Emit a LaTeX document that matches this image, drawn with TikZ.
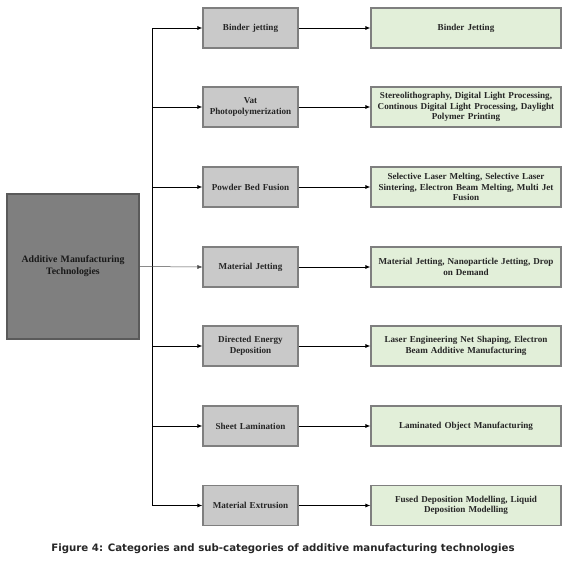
\documentclass[tikz,border=0pt]{standalone}
\usepackage{fontspec}
\setmainfont{Liberation Serif}
\newfontfamily\capfont{DejaVu Sans}
\usetikzlibrary{arrows.meta}
\definecolor{catfill}{HTML}{C9C9C9}
\definecolor{subfill}{HTML}{E2EFD9}
\definecolor{boxline}{HTML}{7F7F7F}
\definecolor{rootfill}{HTML}{7F7F7F}
\definecolor{rootline}{HTML}{5A5A5A}
\tikzset{
  box/.style={draw=boxline, line width=1.1pt, minimum height=40pt, inner sep=1pt, align=center,
    font=\fontsize{9.1}{10.5}\selectfont\bfseries, text=black!85},
  catbox/.style={box, fill=catfill, minimum width=95pt, text width=93pt},
  subbox/.style={box, fill=subfill, minimum width=190pt, text width=188pt},
  rootbox/.style={box, fill=rootfill, draw=rootline, minimum width=132pt, minimum height=145pt, text width=130pt,
    font=\fontsize{9.8}{12}\selectfont\bfseries, text=black!90},
  conn/.style={line width=0.8pt, -{Latex[length=5pt,width=4pt]}},
  thinconn/.style={line width=0.5pt, draw=black!70, -{Latex[length=5pt,width=4pt]}}
}
\begin{document}
\begin{tikzpicture}[x=1pt,y=-1pt]
\useasboundingbox (0,0) rectangle (572,565);
\node[rootbox] (root) at (73,266.5) {Additive Manufacturing\\Technologies};
\node[catbox] (c1) at (250.5,28) {Binder jetting};
\node[catbox] (c2) at (250.5,107) {Vat\\Photopolymerization};
\node[catbox] (c3) at (250.5,187) {Powder Bed Fusion};
\node[catbox] (c4) at (250.5,267) {Material Jetting};
\node[catbox] (c5) at (250.5,346) {Directed Energy\\Deposition};
\node[catbox] (c6) at (250.5,426) {Sheet Lamination};
\node[catbox] (c7) at (250.5,505.5) {Material Extrusion};
\node[subbox] (s1) at (466,28) {Binder Jetting};
\node[subbox] (s2) at (466,107) {Stereolithography, Digital Light Processing,\\Continous Digital Light Processing, Daylight\\Polymer Printing};
\node[subbox] (s3) at (466,187) {Selective Laser Melting, Selective Laser\\Sintering, Electron Beam Melting, Multi Jet\\Fusion};
\node[subbox] (s4) at (466,267) {Material Jetting, Nanoparticle Jetting, Drop\\on Demand};
\node[subbox] (s5) at (466,346) {Laser Engineering Net Shaping, Electron\\Beam Additive Manufacturing};
\node[subbox] (s6) at (466,426) {Laminated Object Manufacturing};
\node[subbox] (s7) at (466,505.5) {Fused Deposition Modelling, Liquid\\Deposition Modelling};
\coordinate (top) at (152,28);
\coordinate (bot) at (152,505.5);
\draw[line width=0.9pt] (top) -- (bot);
\foreach \i in {1,2,3,5,6,7} {
  \draw[conn] (top |- c\i.west) -- (c\i.west);
}
\draw[thinconn] (root.east) -- (c4.west);
\foreach \i in {1,...,7} {
  \draw[conn] (c\i.east) -- (s\i.west);
}
\node[font=\capfont\fontsize{10.2}{12}\selectfont\bfseries, text=black!85] (cap) at (283,549) {Figure 4: Categories and sub-categories of additive manufacturing technologies};
\end{tikzpicture}
\end{document}
